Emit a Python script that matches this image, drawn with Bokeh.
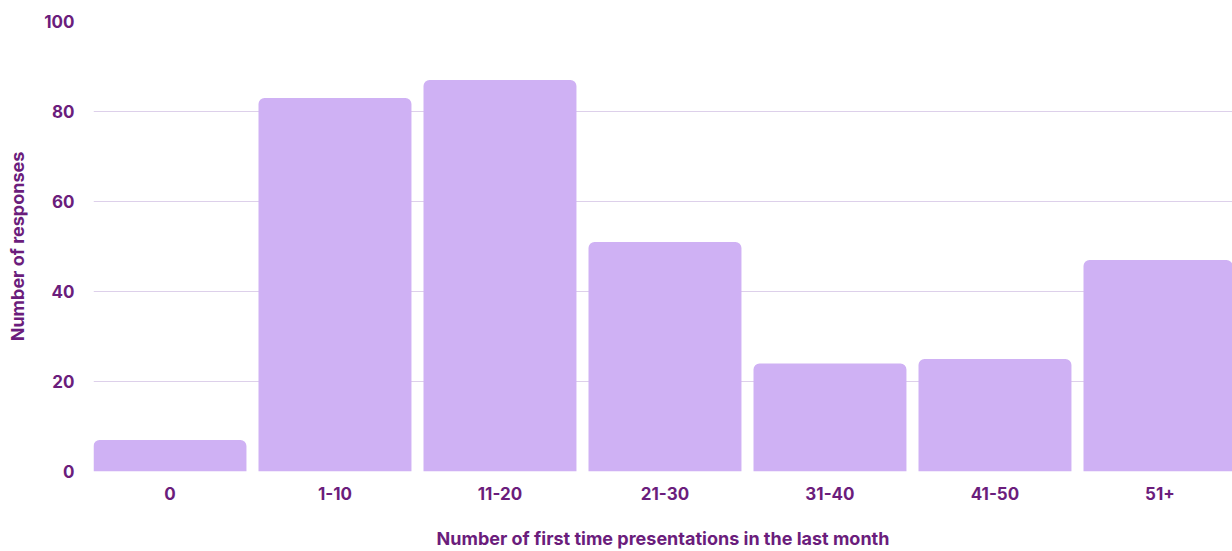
from bokeh.plotting import figure
from bokeh.models import Range1d, FixedTicker, ColumnDataSource
from bokeh.embed import file_html
from bokeh.resources import INLINE

categories = ["0", "1-10", "11-20", "21-30", "31-40", "41-50", "51+"]
responses = [7, 83, 87, 51, 24, 25, 47]
y_ticks = [0, 20, 40, 60, 80, 100]
x_title = "Number of first time presentations in the last month"
y_title = "Number of responses"

TEXT = "#6B1D7C"
BAR = "#CFB1F4"
GRID = "#DDD0EA"
FONT = "Inter"

xs = list(range(len(categories)))
src = ColumnDataSource(dict(x=xs, top=responses, cat=categories))

bw = 0.927
x0 = -bw / 2
p = figure(width=1232, height=551, output_backend="svg", toolbar_location=None,
           x_range=Range1d(x0, x0 + 1139 / 165), y_range=Range1d(0, 100),
           min_border_left=93, min_border_right=0, min_border_top=21, min_border_bottom=80)
p.vbar(x="x", top="top", width=bw, source=src, fill_color=BAR, line_color=None,
       border_radius=(6, 6, 0, 0))

p.outline_line_color = None
p.background_fill_color = "white"
p.border_fill_color = "white"
p.xgrid.grid_line_color = None
p.ygrid.grid_line_color = GRID
p.ygrid.ticker = FixedTicker(ticks=y_ticks)
p.ygrid.level = "underlay"

p.xaxis.ticker = FixedTicker(ticks=xs)
p.xaxis.major_label_overrides = {i: c for i, c in enumerate(categories)}
p.yaxis.ticker = FixedTicker(ticks=y_ticks)

for ax in (p.xaxis[0], p.yaxis[0]):
    ax.axis_line_color = None
    ax.major_tick_line_color = None
    ax.minor_tick_line_color = None
    ax.major_label_text_color = TEXT
    ax.major_label_text_font = FONT
    ax.major_label_text_font_style = "bold"
    ax.major_label_text_font_size = "17px"
    ax.axis_label_text_color = TEXT
    ax.axis_label_text_font = FONT
    ax.axis_label_text_font_style = "bold"
    ax.axis_label_text_font_size = "18px"

p.xaxis.axis_label = x_title
p.yaxis.axis_label = y_title
p.xaxis.major_label_standoff = 9
p.yaxis.major_label_standoff = 13
p.xaxis.axis_label_standoff = 25
p.yaxis.axis_label_standoff = 13

open("out.html", "w").write(file_html(p, INLINE))
